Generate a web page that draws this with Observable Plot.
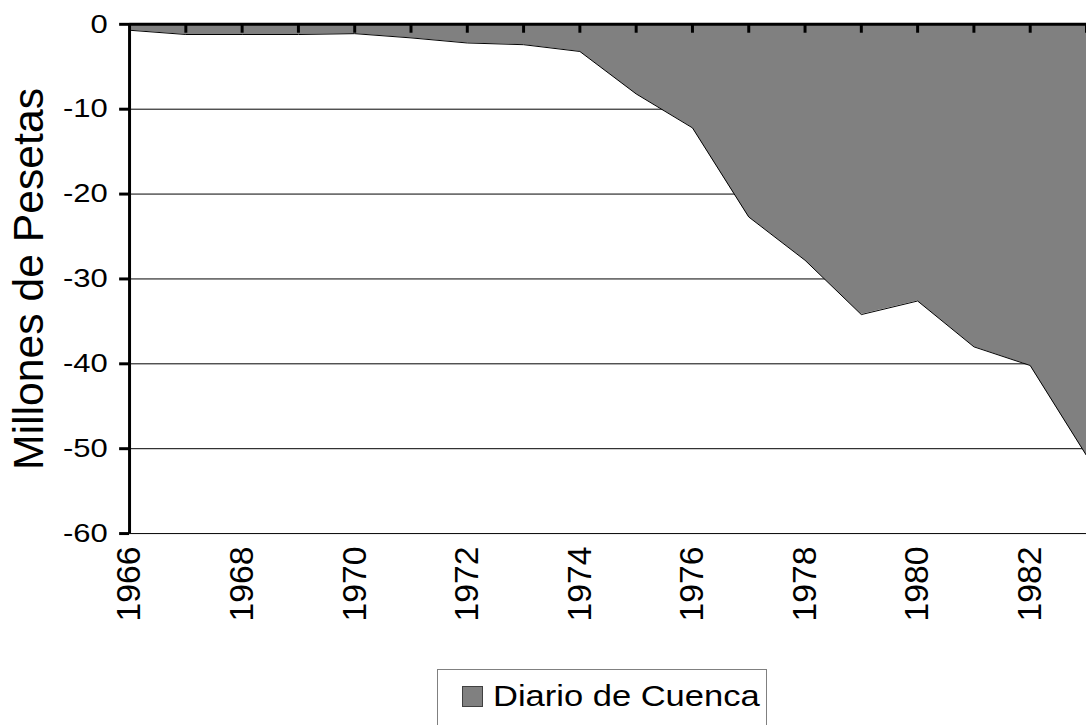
<!DOCTYPE html>
<html>
<head>
<meta charset="utf-8">
<script src="https://cdn.jsdelivr.net/npm/d3@7"></script>
<script src="https://cdn.jsdelivr.net/npm/@observablehq/plot@0.6"></script>
<style>
  html, body { margin: 0; padding: 0; background: white; }
  body { font-family: "Liberation Sans", Arial, sans-serif; }
  #wrap { width: 1086px; overflow: hidden; }
  #legend {
    margin-left: 437px; margin-top: 4px;
    display: inline-flex; align-items: center;
    border: 1px solid #808080;
    padding: 9px 6px 20px 24px;
    font-size: 30px; color: black; line-height: normal;
  }
  #legend .sw {
    display: inline-block; width: 19px; height: 19px;
    background: #808080; border: 1px solid #404040; margin-right: 10px;
  }
  #legend .lab { display: inline-block; transform-origin: left center; transform: scaleX(1.15); }
</style>
</head>
<body>
<div id="wrap"><div id="chart"></div>
<div id="legend"><span class="sw"></span><span class="lab"></span></div></div>
<script>
const years = [1966, 1967, 1968, 1969, 1970, 1971, 1972, 1973, 1974, 1975, 1976, 1977, 1978, 1979, 1980, 1981, 1982, 1983];
const values = [-0.7, -1.2, -1.2, -1.2, -1.1, -1.6, -2.2, -2.4, -3.2, -8.2, -12.2, -22.7, -27.8, -34.2, -32.6, -38.0, -40.2, -50.8];
const yTicks = [0, -10, -20, -30, -40, -50, -60];
const gridTicks = [-10, -20, -30, -40, -50, -60];
const xLabelYears = [1966, 1968, 1970, 1972, 1974, 1976, 1978, 1980, 1982];
const topTickYears = [1967, 1968, 1969, 1970, 1971, 1972, 1973, 1974, 1975, 1976, 1977, 1978, 1979, 1980, 1981, 1982, 1983];
const seriesName = "Diario de Cuenca";
const yTitle = "Millones de Pesetas";

const data = years.map((y, i) => ({year: y, value: values[i]}));
const tickDepth = -1.05; // inward tick length on the zero line, in axis units

const chart = Plot.plot({
  width: 1094,
  height: 670,
  marginLeft: 130,
  marginRight: 0,
  marginTop: 24,
  marginBottom: 133,
  style: {fontFamily: "'Liberation Sans', Arial, sans-serif", color: "black", background: "white", overflow: "visible"},
  x: {domain: [1966, 1983]},
  y: {domain: [-60, 0]},
  marks: [
    Plot.gridY(gridTicks, {stroke: "black", strokeOpacity: 1, strokeWidth: 1}),
    Plot.areaY(data, {x: "year", y: "value", fill: "#808080"}),
    Plot.lineY(data, {x: "year", y: "value", stroke: "black", strokeWidth: 1}),
    Plot.ruleX(topTickYears, {x: d => d, y1: 0, y2: tickDepth, stroke: "black", strokeWidth: 3}),
    Plot.ruleY([0], {stroke: "black", strokeWidth: 3}),
    Plot.ruleX([1966], {stroke: "black", strokeWidth: 3}),
    Plot.axisY({ticks: yTicks, tickSize: 10, strokeWidth: 3, tickPadding: 12, fontSize: 26, tickFormat: d => String(d), label: null}),
    Plot.axisX({anchor: "bottom", ticks: xLabelYears, tickSize: 0, tickPadding: 13, tickRotate: -90, fontSize: 34, tickFormat: d => String(d), label: null}),
    Plot.text([yTitle], {frameAnchor: "left", textAnchor: "middle", rotate: -90, dx: -101, fontSize: 43, fill: "black"})
  ]
});
document.getElementById("chart").appendChild(chart);

// widen the horizontal tick labels like the reference
d3.select(chart).selectAll('g[aria-label="y-axis tick label"] text').each(function() {
  const t = this.getAttribute("transform") || "";
  this.setAttribute("transform", t + " scale(1.2,1)");
});

const lab = document.querySelector("#legend .lab");
lab.textContent = seriesName;
lab.style.marginRight = (lab.getBoundingClientRect().width * 0.15 / 1.15) + "px";
</script>
</body>
</html>
